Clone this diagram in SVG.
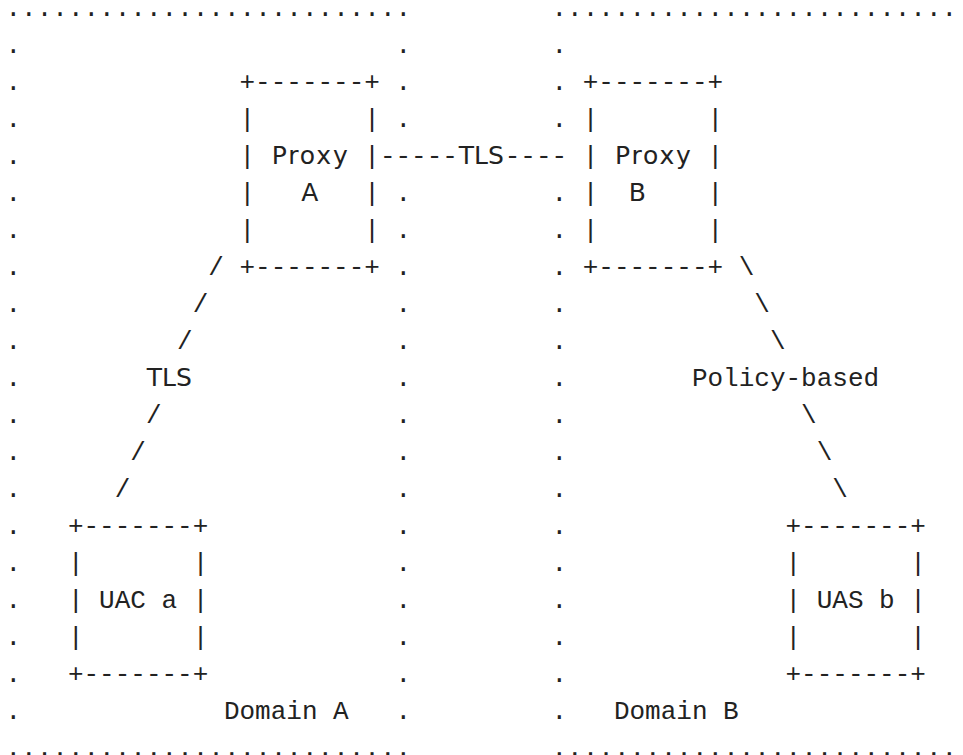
<svg xmlns="http://www.w3.org/2000/svg" width="963" height="755" viewBox="0 0 963 755" xml:space="preserve">
<style>
text{fill:#222;}
.m{font-family:"Liberation Mono","DejaVu Sans Mono",monospace;font-size:26px;white-space:pre;}
.s{font-family:"DejaVu Sans","Liberation Sans",sans-serif;font-size:25px;text-anchor:middle;}
</style>
<rect width="963" height="755" fill="#ffffff"/>
<g id="domain-a">
<text class="m" x="5.5" y="15.5">..........................</text>
<text class="m" x="5.5" y="755.5">..........................</text>
<text class="m" x="5.5 5.5 5.5 5.5 5.5 5.5 5.5 5.5 5.5 5.5 5.5 5.5 5.5 5.5 5.5 5.5 5.5 5.5 5.5" y="52.5 89.5 126.5 163.5 200.5 237.5 274.5 311.5 348.5 385.5 422.5 459.5 496.5 533.5 570.5 607.5 644.5 681.5 718.5">...................</text>
<text class="m" x="395.5 395.5 395.5" y="52.5 89.5 126.5">...</text>
<text class="m" x="395.5 395.5 395.5 395.5 395.5 395.5 395.5 395.5 395.5 395.5 395.5 395.5 395.5 395.5 395.5" y="200.5 237.5 274.5 311.5 348.5 385.5 422.5 459.5 496.5 533.5 570.5 607.5 644.5 681.5 718.5">...............</text>
<text class="m" x="223.9" y="718.5">Domain A</text>
</g>
<g id="domain-b">
<text class="m" x="551.5" y="15.5">..........................</text>
<text class="m" x="551.5" y="755.5">..........................</text>
<text class="m" x="551.5 551.5 551.5" y="52.5 89.5 126.5">...</text>
<text class="m" x="551.5 551.5 551.5 551.5 551.5 551.5 551.5 551.5 551.5 551.5 551.5 551.5 551.5 551.5 551.5" y="200.5 237.5 274.5 311.5 348.5 385.5 422.5 459.5 496.5 533.5 570.5 607.5 644.5 681.5 718.5">...............</text>
<text class="m" x="613.9" y="718.5">Domain B</text>
</g>
<g id="proxy-a">
<text class="m" x="239.5" y="89.5">+-------+</text>
<text class="m" x="239.5" y="126.5">|</text><text class="m" x="364.3" y="126.5">|</text>
<text class="m" x="239.5" y="163.5">|</text><text class="m" x="364.3" y="163.5">|</text>
<text class="m" x="239.5" y="200.5">|</text><text class="m" x="364.3" y="200.5">|</text>
<text class="m" x="239.5" y="237.5">|</text><text class="m" x="364.3" y="237.5">|</text>
<text class="m" x="239.5" y="274.5">+-------+</text>
<text class="s" x="309.7" y="163.5" textLength="76" lengthAdjust="spacing">Proxy</text>
<text class="s" x="309.7" y="200.5">A</text>
</g>
<g id="proxy-b">
<text class="m" x="582.7" y="89.5">+-------+</text>
<text class="m" x="582.7" y="126.5">|</text><text class="m" x="707.5" y="126.5">|</text>
<text class="m" x="582.7" y="163.5">|</text><text class="m" x="707.5" y="163.5">|</text>
<text class="m" x="582.7" y="200.5">|</text><text class="m" x="707.5" y="200.5">|</text>
<text class="m" x="582.7" y="237.5">|</text><text class="m" x="707.5" y="237.5">|</text>
<text class="m" x="582.7" y="274.5">+-------+</text>
<text class="s" x="652.9" y="163.5" textLength="76" lengthAdjust="spacing">Proxy</text>
<text class="s" x="637.3" y="200.5">B</text>
</g>
<g id="uac-a">
<text class="m" x="67.9" y="533.5">+-------+</text>
<text class="m" x="67.9" y="570.5">|</text><text class="m" x="192.7" y="570.5">|</text>
<text class="m" x="67.9" y="607.5">|</text><text class="m" x="99.1" y="607.5">UAC a</text><text class="m" x="192.7" y="607.5">|</text>
<text class="m" x="67.9" y="644.5">|</text><text class="m" x="192.7" y="644.5">|</text>
<text class="m" x="67.9" y="681.5">+-------+</text>
</g>
<g id="uas-b">
<text class="m" x="785.5" y="533.5">+-------+</text>
<text class="m" x="785.5" y="570.5">|</text><text class="m" x="910.3" y="570.5">|</text>
<text class="m" x="785.5" y="607.5">|</text><text class="m" x="816.7" y="607.5">UAS b</text><text class="m" x="910.3" y="607.5">|</text>
<text class="m" x="785.5" y="644.5">|</text><text class="m" x="910.3" y="644.5">|</text>
<text class="m" x="785.5" y="681.5">+-------+</text>
</g>
<g id="connectors">
<text class="m" x="379.9" y="163.5">-----</text>
<text class="s" x="481.3" y="163.5">TLS</text>
<text class="m" x="504.7" y="163.5">----</text>
<text class="m" x="208.3" y="274.5">/</text>
<text class="m" x="192.7" y="311.5">/</text>
<text class="m" x="177.1" y="348.5">/</text>
<text class="s" x="169.3" y="385.5">TLS</text>
<text class="m" x="145.9" y="422.5">/</text>
<text class="m" x="130.3" y="459.5">/</text>
<text class="m" x="114.7" y="496.5">/</text>
<text class="m" x="738.7" y="274.5">\</text>
<text class="m" x="754.3" y="311.5">\</text>
<text class="m" x="769.9" y="348.5">\</text>
<text class="m" x="691.9" y="385.5">Policy-based</text>
<text class="m" x="801.1" y="422.5">\</text>
<text class="m" x="816.7" y="459.5">\</text>
<text class="m" x="832.3" y="496.5">\</text>
</g>
</svg>
